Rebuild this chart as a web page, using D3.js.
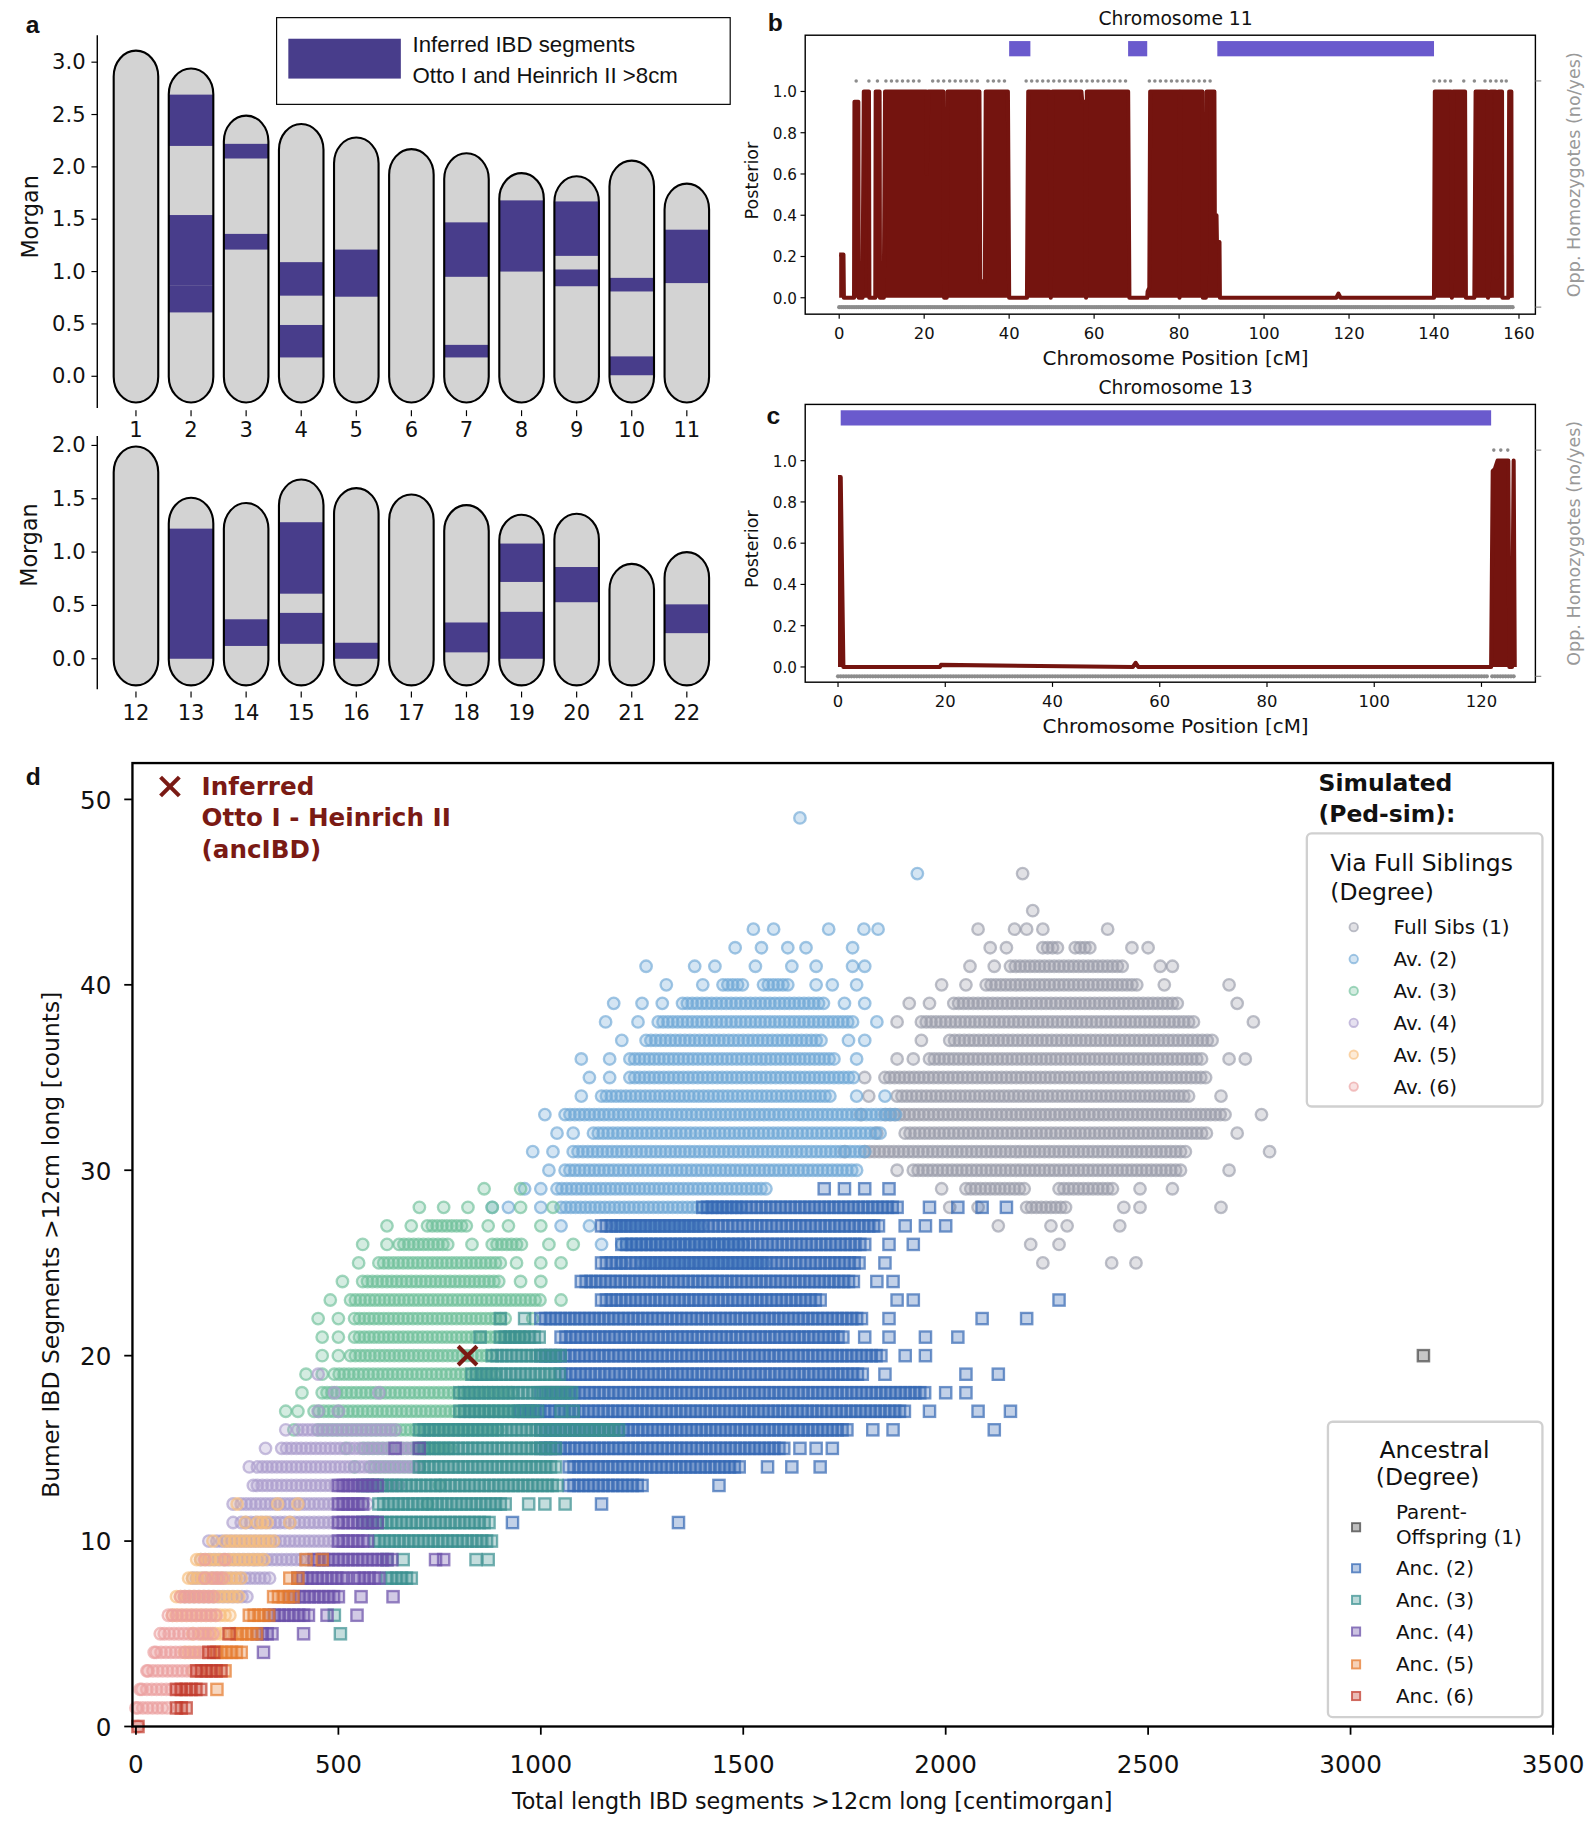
<!DOCTYPE html>
<html><head><meta charset="utf-8">
<script src="https://cdn.jsdelivr.net/npm/d3@7"></script>
<style>body{margin:0;background:#fff}svg{display:block;font-family:"DejaVu Sans",sans-serif}</style>
</head><body><svg id="c" width="1594" height="1825" viewBox="0 0 1360 1557"></svg>
<script>
// ---------- Panel a data ----------
const chromTop = ["1","2","3","4","5","6","7","8","9","10","11"];
const lenTop = [2.86,2.69,2.24,2.16,2.03,1.92,1.88,1.69,1.66,1.81,1.59];
const segTop = [[],[[2.20,2.69],[0.87,1.54],[0.61,0.87]],[[2.08,2.22],[1.21,1.36]],[[0.77,1.09],[0.18,0.49]],[[0.76,1.21]],[],[[0.95,1.47],[0.18,0.30]],[[1.00,1.68]],[[1.15,1.67],[0.86,1.02]],[[0.81,0.94],[0.01,0.19]],[[0.89,1.40]]];
const chromBot = ["12","13","14","15","16","17","18","19","20","21","22"];
const lenBot = [1.74,1.26,1.21,1.43,1.35,1.29,1.19,1.10,1.11,0.64,0.75];
const segBot = [[],[[0.0,1.22]],[[0.12,0.37]],[[0.61,1.28],[0.14,0.43]],[[0.0,0.15]],[],[[0.06,0.34]],[[0.72,1.08],[0.0,0.44]],[[0.53,0.86]],[],[[0.24,0.51]]];
const ticksTop = [0,0.5,1,1.5,2,2.5,3];
const ticksBot = [0,0.5,1,1.5,2];

// ---------- Panel b/c data ----------
const post11 = [[0,0.21],[1,0.21],[1.1,0],[3.5,0],[3.6,0.95],[4.5,0.95],[4.6,0],[5.5,0],[5.8,1],[7,1],[7.1,0],[8.5,0],[8.6,1],[9.5,1],[9.6,0],[10.5,0],[10.8,1],[20.5,1],[20.6,0.6],[21,1],[24.5,1],[24.7,0],[25.3,0],[25.5,1],[33,1],[33.2,0.08],[34.3,0.08],[34.5,1],[39.7,1],[40,0],[44.2,0],[44.5,1],[49.5,1],[49.8,0],[50.2,1],[57,1],[57.2,0.95],[58,0.95],[58.1,0],[58.3,1],[68,1],[68.3,0],[72.5,0],[72.6,0.03],[73,0.05],[73.2,1],[80,1],[80.1,0],[80.3,1],[85.5,1],[85.6,0],[86.3,0],[86.5,1],[88.3,1],[88.4,0.4],[88.8,0.4],[88.9,0.27],[89.5,0.27],[89.6,0],[117,0],[117.5,0.02],[118,0],[140,0],[140.2,1],[144,1],[144.2,0],[144.5,1],[147.3,1],[147.5,0],[149.5,0],[149.8,1],[152.5,1],[152.7,0],[153,0.1],[153.3,1],[154.5,1],[154.6,0.1],[155,0.1],[155.2,1],[156,1],[156.1,0],[157.5,0],[157.7,1],[158.2,1],[158.3,0]];
const dotsTop11 = [4,7,9,[11,20],[22,25],[26,33],[35,40],[44,68],[73,88],[140,145],[147,147.5],[149.5,150],[152,156],[157,158]];
const dotsBot11 = [[0,158.5]];
const ibd11 = [[40,45],[68,72.5],[89,140]];
const post13 = [[0,0.92],[0.5,0.92],[1,0],[19,0],[19.2,0.01],[55,0],[55.5,0.02],[56,0],[121.8,0],[122.1,0.95],[122.5,0.96],[123,1],[125,1],[125.2,0],[125.7,0],[126,1],[126.2,0]];
const dotsTop13 = [[122.3,126]];
const dotsBot13 = [[0,121],[122,126]];
const ibd13 = [[0.5,121.8]];
const postTicks = [0,0.2,0.4,0.6,0.8,1.0];

// ---------- Panel d data ----------
const seriesNames = ["Full Sibs (1)","Av. (2)","Av. (3)","Av. (4)","Av. (5)","Av. (6)","Parent-Offspring (1)","Anc. (2)","Anc. (3)","Anc. (4)","Anc. (5)","Anc. (6)"];
const seriesColors = ["#9a9caa","#6fa8d6","#6fc09a","#ab9ccc","#f7be7c","#eba0a0","#444444","#3468b4","#3a9090","#6a4fa8","#e67a2e","#c23b2c"];
const fullSibs = [[46,[2190]],[44,[2215]],[43,[2080,2170,2200,2240,2400]],[42,[2110,2150,[2240,2280],[2320,2360],2460,2500]],[41,[2060,2120,[2160,2440],2530,2560]],[40,[1990,2050,[2100,2480],2540,2700]],[39,[1910,1960,[2020,2580],2720]],[38,[1880,[1940,2620],2760]],[37,[1940,[2010,2660]]],[36,[1880,1920,[1960,2640],2700,2740]],[35,[1800,[1850,2650]]],[34,[1810,[1880,2610],2680]],[33,[1790,[1850,2690],2780]],[32,[1830,[1900,2650],2720]],[31,[1750,[1800,2600],2800]],[30,[1880,[1920,2580],2700]],[29,[1990,[2050,2200],[2280,2420],2480,2560]],[28,[2010,2080,[2200,2300],2440,2480,2680]],[27,[2130,2260,2300,2430]],[26,[2210,2280]],[25,[2240,2410,2470]]];
const av2 = [[49,[1640]],[46,[1930]],[43,[1525,1575,1711,1798,1833]],[42,[1480,1545,1610,1655,1770]],[41,[1260,1380,1430,1530,1620,1680,1770,1800]],[40,[1310,1400,[1450,1500],[1550,1620],1680,1720,1780]],[39,[1180,1250,1300,[1350,1700],1750,1800]],[38,[1160,1240,[1290,1780],1830]],[37,[1200,[1260,1700],1760,1800]],[36,[1100,1170,[1220,1730],1780]],[35,[1120,1170,[1220,1780]]],[34,[1100,[1150,1720],1780,1850]],[33,[1010,[1060,1880]]],[32,[1040,1080,[1130,1840]]],[31,[980,1030,[1080,1810]]],[30,[1020,[1060,1780]]],[29,[960,1000,[1040,1560]]],[28,[880,920,1000,[1050,1500]]],[27,[1050,1120,[1180,1400]]],[26,[1150,[1200,1500]]],[25,[1200,[1250,1550]]]];
const av3 = [[29,[860,950]],[28,[700,760,820,880,950,1030]],[27,[620,680,[720,820],870,920,1000]],[26,[560,620,[650,780],830,[880,960],1020,1080]],[25,[550,[600,900],940,1000,1050]],[24,[510,[560,900],950,1000]],[23,[480,[530,1000],1050]],[22,[450,500,[540,920],980]],[21,[460,500,[540,960]]],[20,[460,500,[530,880]]],[19,[420,460,[490,890]]],[18,[410,[460,930]]],[17,[370,400,[440,950]]],[16,[390,[450,900]]],[15,[520,[560,780]]],[14,[540,[580,700]]],[13,[600,750]],[12,[560,720]]];
const av4 = [[19,[450]],[18,[490,600]],[17,[450,500]],[16,[370,[400,640]]],[15,[320,[360,700]]],[14,[280,[300,700]]],[13,[290,[300,650]]],[12,[240,[260,580]]],[11,[240,[260,500]]],[10,[180,[200,500]]],[9,[160,[180,430]]],[8,[140,[150,340]]],[7,[120,[130,280]]]];
const av5 = [[12,[250,350,400]],[11,[270,[300,330],380]],[10,[190,[220,350]]],[9,[150,[160,320]]],[8,[130,[140,270]]],[7,[100,[110,260]]],[6,[90,[100,240]]],[5,[140,[160,250]]],[4,[120,[130,170]]],[3,[140,180]]];
const av6 = [[9,[170,220]],[8,[170,[190,220]]],[7,[110,[120,200]]],[6,[80,[90,200]]],[5,[60,[70,200]]],[4,[45,[50,170]]],[3,[27,[30,150]]],[2,[10,[15,120]]],[1,[0,[5,85]]],[0,[5]]];
const parentOff = [[20,[3180]]];
const anc2 = [[29,[1700,1750,1800,1860]],[28,[[1400,1880],1960,2030,2090,2150]],[27,[[1150,1840],1900,1950,2000]],[26,[[1200,1800],1860,1920]],[25,[[1150,1790],1850]],[24,[[1100,1780],1830,1870]],[23,[[1150,1700],1880,1920,2280]],[22,[[1000,1800],1860,2090,2200]],[21,[[1050,1750],1800,1860,1950,2030]],[20,[[1000,1850],1900,1950]],[19,[[1050,1800],1850,2050,2130]],[18,[[1000,1950],2000,2050]],[17,[[950,1900],1960,2080,2160]],[16,[[1000,1760],1820,1870,2120]],[15,[[1000,1600],1640,1680,1720]],[14,[[1070,1500],1560,1620,1690]],[13,[[1070,1260],1440]],[12,[1150]],[11,[930,1340]]];
const anc3 = [[22,[900,960]],[21,[850,[900,1000]]],[20,[[880,1050]]],[19,[[830,1050]]],[18,[[800,1080]]],[17,[[800,1000],1050,1080]],[16,[[700,1200]]],[15,[[700,1040]]],[14,[[700,1040]]],[13,[[560,1050]]],[12,[[600,920],970,1010,1060]],[11,[[560,880]]],[10,[[590,880]]],[9,[620,660,840,870]],[8,[[620,690]]],[6,[490]],[5,[505]]];
const anc4 = [[15,[640,700]],[13,[[500,600]]],[12,[[500,560]]],[11,[[500,600]]],[10,[[500,580]]],[9,[[440,640],740,760]],[8,[[400,520],[540,600]]],[7,[[380,500],556,635]],[6,[[330,430],472,546]],[5,[[300,340],414]],[4,[315]]];
const anc5 = [[9,[420,460]],[8,[380,400]],[7,[[340,390]]],[6,[[280,330]]],[5,[[250,300]]],[4,[[200,260]]],[3,[220]],[2,[200]]];
const anc6 = [[5,[230]],[4,[[180,200]]],[3,[[150,210]]],[2,[[100,170]]],[1,[[100,130]]],[0,[5]]];
const inferred = [819,20];
const xTicksD = [0,500,1000,1500,2000,2500,3000,3500];
const yTicksD = [0,10,20,30,40,50];

// ================= drawing =================
const svg = d3.select("#c");
const txt = (x,y,s,o={}) => svg.append("text").attr("x",x).attr("y",y).text(s)
  .attr("font-size",o.fs||16).attr("fill",o.fill||"#111").attr("font-weight",o.fw||"normal")
  .attr("text-anchor",o.anchor||"start").attr("font-family",o.ff||null)
  .attr("transform",o.rot?`rotate(${o.rot},${x},${y})`:null);

[["a",22,28],["b",655,26],["c",654,362],["d",22,670]].forEach(d=>txt(d[1],d[2],d[0],{fs:21,fw:"bold",ff:"Liberation Sans, Arial"}));

// ---- Panel a ----
function ideogram(names,lens,segs,ticks,y0px,y3px,ymaxV,axTop,axBot,labY,labCY){
  const y = d3.scaleLinear().domain([0,ymaxV]).range([y0px,y3px]);
  const x = d3.scalePoint().domain(names).range([116,586]);
  const g = svg.append("g");
  g.append("line").attr("x1",83).attr("x2",83).attr("y1",axTop).attr("y2",axBot).attr("stroke","#000").attr("stroke-width",1.2);
  ticks.forEach(t=>{g.append("line").attr("x1",78).attr("x2",83).attr("y1",y(t)).attr("y2",y(t)).attr("stroke","#000");
    txt(73,y(t)+6,t.toFixed(1),{fs:18,anchor:"end"});});
  names.forEach((n,i)=>{
    const cx=x(n), w=38, top=y(lens[i]+0.25), bot=y(-0.25);
    const id="cl"+n;
    g.append("clipPath").attr("id",id).append("rect").attr("x",cx-w/2).attr("y",top).attr("width",w).attr("height",bot-top).attr("rx",19).attr("ry",22);
    g.append("rect").attr("x",cx-w/2).attr("y",top).attr("width",w).attr("height",bot-top).attr("rx",19).attr("ry",22).attr("fill","#d3d3d3");
    segs[i].forEach(s=>g.append("rect").attr("clip-path",`url(#${id})`).attr("x",cx-w/2).attr("width",w).attr("y",y(s[1])).attr("height",y(s[0])-y(s[1])).attr("fill","#483d8b"));
    g.append("rect").attr("x",cx-w/2).attr("y",top).attr("width",w).attr("height",bot-top).attr("rx",19).attr("ry",22).attr("fill","none").attr("stroke","#000").attr("stroke-width",1.8);
    g.append("line").attr("x1",cx).attr("x2",cx).attr("y1",axBot+2).attr("y2",axBot+7).attr("stroke","#000");
    txt(cx,labY,n,{fs:18,anchor:"middle"});
  });
  txt(32,labCY,"Morgan",{fs:19,anchor:"middle",rot:-90});
}
ideogram(chromTop,lenTop,segTop,ticksTop,321,53,3,30,348,373,185);
ideogram(chromBot,lenBot,segBot,ticksBot,562,380,2,372,588,614,465);
svg.append("rect").attr("x",236).attr("y",15).attr("width",387).attr("height",74).attr("fill","#fff").attr("stroke","#000");
svg.append("rect").attr("x",246).attr("y",33).attr("width",96).attr("height",34).attr("fill","#483d8b");
txt(352,44,"Inferred IBD segments",{fs:19,ff:"Liberation Sans, Arial"});
txt(352,71,"Otto I and Heinrich II >8cm",{fs:19,ff:"Liberation Sans, Arial"});

// ---- Panels b,c ----
function postPanel(top,bottom,xmax,px0,px1,xticks,title,post,dTop,dBot,ibd,y1px,y0px){
  const x=d3.scaleLinear().domain([0,xmax]).range([px0,px1]);
  const y=d3.scaleLinear().domain([0,1]).range([y0px,y1px]);
  const g=svg.append("g");
  ibd.forEach(s=>g.append("rect").attr("x",x(s[0])).attr("width",x(s[1])-x(s[0])).attr("y",top+5).attr("height",13).attr("fill","#6a5acd"));
  const dots=(ranges,yy,st,r)=>ranges.forEach(rg=>{const a=Array.isArray(rg)?rg[0]:rg,b=Array.isArray(rg)?rg[1]:rg;
    for(let v=a;v<=b+1e-6;v+=st) g.append("circle").attr("cx",x(v)).attr("cy",yy).attr("r",r).attr("fill","#8c8c8c");});
  dots(dTop,y(1)-9,1.3,1.5); dots(dBot,y(0)+8,0.5,1.8);
  g.append("path").datum(post).attr("d",d3.area().x(d=>x(d[0])).y0(y(0)).y1(d=>y(d[1]))).attr("fill","#74140f");
  g.append("path").datum(post).attr("d",d3.line().x(d=>x(d[0])).y(d=>y(d[1]))).attr("fill","none").attr("stroke","#74140f").attr("stroke-width",3.5).attr("stroke-linejoin","round");
  g.append("rect").attr("x",687).attr("y",top).attr("width",623).attr("height",bottom-top).attr("fill","none").attr("stroke","#000").attr("stroke-width",1.2);
  postTicks.forEach(t=>{g.append("line").attr("x1",683).attr("x2",687).attr("y1",y(t)).attr("y2",y(t)).attr("stroke","#000");
    txt(680,y(t)+5,t.toFixed(1),{fs:13,anchor:"end"});});
  xticks.forEach(t=>{g.append("line").attr("x1",x(t)).attr("x2",x(t)).attr("y1",bottom).attr("y2",bottom+4).attr("stroke","#000");
    txt(x(t),bottom+21,t,{fs:14,anchor:"middle"});});
  [y(1)-9,y(0)+8].forEach(yy=>g.append("line").attr("x1",1310).attr("x2",1315).attr("y1",yy).attr("y2",yy).attr("stroke","#888"));
  txt(1003,top-9,title,{fs:16,anchor:"middle"});
  txt(1003,bottom+43,"Chromosome Position [cM]",{fs:17,anchor:"middle"});
  txt(647,(top+bottom)/2+5,"Posterior",{fs:15,anchor:"middle",rot:-90});
  txt(1348,(top+bottom)/2,"Opp. Homozygotes (no/yes)",{fs:15,anchor:"middle",rot:-90,fill:"#999"});
}
postPanel(30,268,160,716,1296,[0,20,40,60,80,100,120,140,160],"Chromosome 11",post11,dotsTop11,dotsBot11,ibd11,78,254);
postPanel(345,582,120,715,1264,[0,20,40,60,80,100,120],"Chromosome 13",post13,dotsTop13,dotsBot13,ibd13,393,569);

// ---- Panel d ----
const xd=d3.scaleLinear().domain([0,3500]).range([116,1325]);
const yd=d3.scaleLinear().domain([0,50]).range([1473,682]);
const gd=svg.append("g");
const allSeries=[fullSibs,av2,av3,av4,av5,av6,parentOff,anc2,anc3,anc4,anc5,anc6];
allSeries.forEach((ser,si)=>{
  const col=seriesColors[si], sq=si>=6;
  ser.forEach(([cnt,items])=>items.forEach(r=>{
    const a=Array.isArray(r)?r[0]:r,b=Array.isArray(r)?r[1]:r;
    for(let v=a;v<=b+1e-6;v+=12){
      const px=xd(v),py=yd(cnt);
      if(sq) gd.append("rect").attr("x",px-4.8).attr("y",py-4.8).attr("width",9.6).attr("height",9.6)
        .attr("fill",col).attr("fill-opacity",0.3).attr("stroke",col).attr("stroke-opacity",0.7).attr("stroke-width",2);
      else gd.append("circle").attr("cx",px).attr("cy",py).attr("r",4.9)
        .attr("fill",col).attr("fill-opacity",0.3).attr("stroke",col).attr("stroke-opacity",0.65).attr("stroke-width",2);
    }
  }));
});
const xm=(cx,cy,s,w)=>{[[-1,-1,1,1],[-1,1,1,-1]].forEach(k=>svg.append("line").attr("x1",cx+k[0]*s).attr("y1",cy+k[1]*s).attr("x2",cx+k[2]*s).attr("y2",cy+k[3]*s).attr("stroke","#7a1a14").attr("stroke-width",w));};
xm(xd(inferred[0]),yd(inferred[1]),8,3.5);
xm(145,671,8,3.5);
txt(172,678,"Inferred",{fs:21,fw:"bold",fill:"#7a1a14"});
txt(172,705,"Otto I - Heinrich II",{fs:21,fw:"bold",fill:"#7a1a14"});
txt(172,732,"(ancIBD)",{fs:21,fw:"bold",fill:"#7a1a14"});
svg.append("rect").attr("x",113).attr("y",651).attr("width",1212).attr("height",822).attr("fill","none").attr("stroke","#000").attr("stroke-width",2);
xTicksD.forEach(t=>{svg.append("line").attr("x1",xd(t)).attr("x2",xd(t)).attr("y1",1473).attr("y2",1480).attr("stroke","#000").attr("stroke-width",1.5);
  txt(xd(t),1513,t,{fs:21,anchor:"middle"});});
yTicksD.forEach(t=>{svg.append("line").attr("x1",106).attr("x2",113).attr("y1",yd(t)).attr("y2",yd(t)).attr("stroke","#000").attr("stroke-width",1.5);
  txt(95,yd(t)+8,t,{fs:21,anchor:"end"});});
txt(693,1543,"Total length IBD segments >12cm long [centimorgan]",{fs:19,anchor:"middle"});
txt(50,1062,"Bumer IBD Segments >12cm long [counts]",{fs:20,anchor:"middle",rot:-90});
txt(1125,675,"Simulated",{fs:20,fw:"bold"});
txt(1125,701,"(Ped-sim):",{fs:20,fw:"bold"});
svg.append("rect").attr("x",1115).attr("y",711).attr("width",201).attr("height",233).attr("rx",4).attr("fill","#fff").attr("fill-opacity",0.85).attr("stroke","#d0d0d0").attr("stroke-width",2);
txt(1135,743,"Via Full Siblings",{fs:20});
txt(1135,768,"(Degree)",{fs:20});
[0,1,2,3,4,5].forEach((si,i)=>{const yy=791+i*27.2;
  svg.append("circle").attr("cx",1155).attr("cy",yy).attr("r",3.6).attr("fill",seriesColors[si]).attr("fill-opacity",0.3).attr("stroke",seriesColors[si]).attr("stroke-opacity",0.65).attr("stroke-width",1.6);
  txt(1189,yy+6,seriesNames[si],{fs:17});});
svg.append("rect").attr("x",1133).attr("y",1213).attr("width",183).attr("height",252).attr("rx",4).attr("fill","#fff").attr("fill-opacity",0.85).attr("stroke","#d0d0d0").attr("stroke-width",2);
txt(1224,1244,"Ancestral",{fs:20,anchor:"middle"});
txt(1218,1267,"(Degree)",{fs:20,anchor:"middle"});
const ly=[1303,1338,1365,1392,1420,1447];
[6,7,8,9,10,11].forEach((si,i)=>{
  svg.append("rect").attr("x",1153.5).attr("y",ly[i]-3.5).attr("width",7).attr("height",7).attr("fill",seriesColors[si]).attr("fill-opacity",0.35).attr("stroke",seriesColors[si]).attr("stroke-opacity",0.75).attr("stroke-width",1.6);
  if(i===0){txt(1191,1296,"Parent-",{fs:17});txt(1191,1317,"Offspring (1)",{fs:17});}
  else txt(1191,ly[i]+6,seriesNames[si],{fs:17});});
</script></body></html>
